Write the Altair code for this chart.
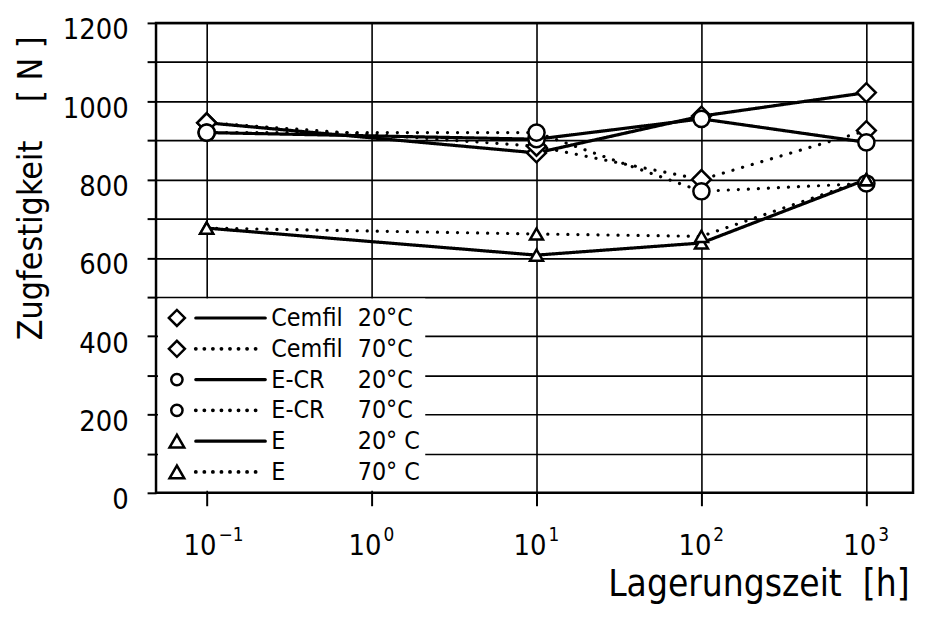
import altair as alt
import pandas as pd

# ---- data ----
times = [0.1, 10, 100, 1000]
cemfil_20 = [945, 868, 962, 1022]
cemfil_70 = [945, 885, 800, 925]
ecr_20 = [920, 903, 955, 895]
ecr_70 = [920, 920, 770, 790]
e_20 = [676, 607, 638, 800]
e_70 = [676, 661, 655, 800]

materials = ["Cemfil", "Cemfil", "E-CR", "E-CR", "E", "E"]
temps = ["20°C", "70°C", "20°C", "70°C", "20°C", "70°C"]
legend_temp_text = ["20°C", "70°C", "20°C", "70°C", "20° C", "70° C"]
series_values = [cemfil_20, cemfil_70, ecr_20, ecr_70, e_20, e_70]

x_tick_values = [0.1, 1, 10, 100, 1000]
x_tick_base = ["10", "10", "10", "10", "10"]
x_tick_exponents = ["−1", "0", "1", "2", "3"]
y_tick_values = list(range(0, 1300, 100))

FONT = "DejaVu Sans Condensed, Liberation Sans Narrow, DejaVu Sans"

rows = []
for mat, tmp, vals in zip(materials, temps, series_values):
    for t, v in zip(times, vals):
        rows.append({"t": t, "v": v, "series": f"{mat} {tmp}", "material": mat, "temp": tmp})
df = pd.DataFrame(rows)

ticks_df = pd.DataFrame({"t": x_tick_values, "base": x_tick_base, "exp": x_tick_exponents})

W, H = 762, 473

x_scale = alt.Scale(type="log", domain=[10 ** -1.307, 10 ** 3.283], nice=False)
x_enc = alt.X(
    "t:Q",
    scale=x_scale,
    axis=alt.Axis(
        values=x_tick_values,
        labels=False,
        title="Lagerungszeit\u00a0\u00a0[h]",
        tickSize=13,
        titleFontSize=37,
        titleAnchor="end",
        titleAlign="right",
        titleX=W - 4,
        titleY=103,
        titleBaseline="alphabetic",
    ),
)
y_enc = alt.Y(
    "v:Q",
    scale=alt.Scale(domain=[0, 1200], nice=False),
    axis=alt.Axis(
        values=y_tick_values,
        format="d",
        labelExpr="datum.value % 200 == 0 ? datum.label : ''",
        title="Zugfestigkeit\u00a0\u00a0\u00a0\u00a0[\u00a0N\u00a0]",
        labelFontSize=29,
        labelPadding=19,
        labelBaseline="alphabetic",
        labelOffset=16,
        tickSize=9,
        titleFontSize=34,
        titleAngle=-90,
        titleX=-115,
        titleY=166,
        titleAlign="center",
        titleBaseline="alphabetic",
    ),
)

dash_scale = alt.Scale(domain=["20°C", "70°C"], range=[[1, 0], [0.1, 10]])
shape_scale = alt.Scale(domain=["Cemfil", "E-CR", "E"], range=["diamond", "circle", "triangle-up"])
size_scale = alt.Scale(domain=["Cemfil", "E-CR", "E"], range=[360, 170, 270])

lines = alt.Chart(df).mark_line(color="black", strokeWidth=3.2, strokeCap="round").encode(
    x=x_enc,
    y=y_enc,
    detail="series:N",
    strokeDash=alt.StrokeDash("temp:N", scale=dash_scale, legend=None),
)
points = alt.Chart(df).mark_point(
    filled=True, fill="white", stroke="black", strokeWidth=2.5, opacity=1
).encode(
    x=x_enc,
    y=y_enc,
    shape=alt.Shape("material:N", scale=shape_scale, legend=None),
    size=alt.Size("material:N", scale=size_scale, legend=None),
)

# x tick labels as 10 with raised exponent
tick_base = alt.Chart(ticks_df).mark_text(
    align="right", baseline="alphabetic", font=FONT, fontSize=29, color="black", dx=10
).encode(x=alt.X("t:Q", scale=x_scale), y=alt.value(H + 63), text="base:N")
tick_exp = alt.Chart(ticks_df).mark_text(
    align="left", baseline="alphabetic", font=FONT, fontSize=19, color="black", dx=12, dy=-15
).encode(x=alt.X("t:Q", scale=x_scale), y=alt.value(H + 63), text="exp:N")

# ---- hand-made legend box (layout in pixels) ----
one = pd.DataFrame({"k": [0]})
legend_layers = [
    alt.Chart(one).mark_rect(fill="white", stroke=None).encode(
        x=alt.value(2), x2=alt.value(271), y=alt.value(277.5), y2=alt.value(471)
    )
]
shape_of = {"Cemfil": "diamond", "E-CR": "circle", "E": "triangle-up"}
size_of = {"Cemfil": 260, "E-CR": 130, "E": 220}
for i, (mat, tmp, ttxt) in enumerate(zip(materials, temps, legend_temp_text)):
    ry = 297 + 31 * i
    solid = tmp == "20°C"
    legend_layers.append(
        alt.Chart(one).mark_rule(
            color="black", strokeWidth=3.2 if solid else 3.8, strokeCap="round",
            strokeDash=[1, 0] if solid else [0.1, 8.5],
        ).encode(x=alt.value(40), x2=alt.value(110 if solid else 105), y=alt.value(ry))
    )
    legend_layers.append(
        alt.Chart(one).mark_point(
            filled=True, fill="white", stroke="black", strokeWidth=2.5, opacity=1,
            shape=shape_of[mat], size=size_of[mat],
        ).encode(x=alt.value(21), y=alt.value(ry))
    )
    legend_layers.append(
        alt.Chart(one).mark_text(
            text=mat, align="left", baseline="middle", font=FONT, fontSize=25, color="black"
        ).encode(x=alt.value(116), y=alt.value(ry))
    )
    legend_layers.append(
        alt.Chart(one).mark_text(
            text=ttxt, align="left", baseline="middle", font=FONT, fontSize=25, color="black"
        ).encode(x=alt.value(203), y=alt.value(ry))
    )

chart = alt.layer(lines, points, tick_base, tick_exp, *legend_layers).properties(
    width=W,
    height=H,
    autosize=alt.AutoSizeParams(type="none"),
    padding={"left": 149, "top": 13, "right": 5, "bottom": 124},
).configure_view(
    stroke="black", strokeWidth=2.5
).configure_axis(
    domain=False,
    grid=True,
    gridColor="black",
    gridWidth=1.6,
    gridOpacity=1,
    tickColor="black",
    tickWidth=2,
    labelColor="black",
    titleColor="black",
    labelFont=FONT,
    titleFont=FONT,
    titleFontWeight="normal",
)

chart.save("out.html", embed_options={"renderer": "svg", "actions": False})
